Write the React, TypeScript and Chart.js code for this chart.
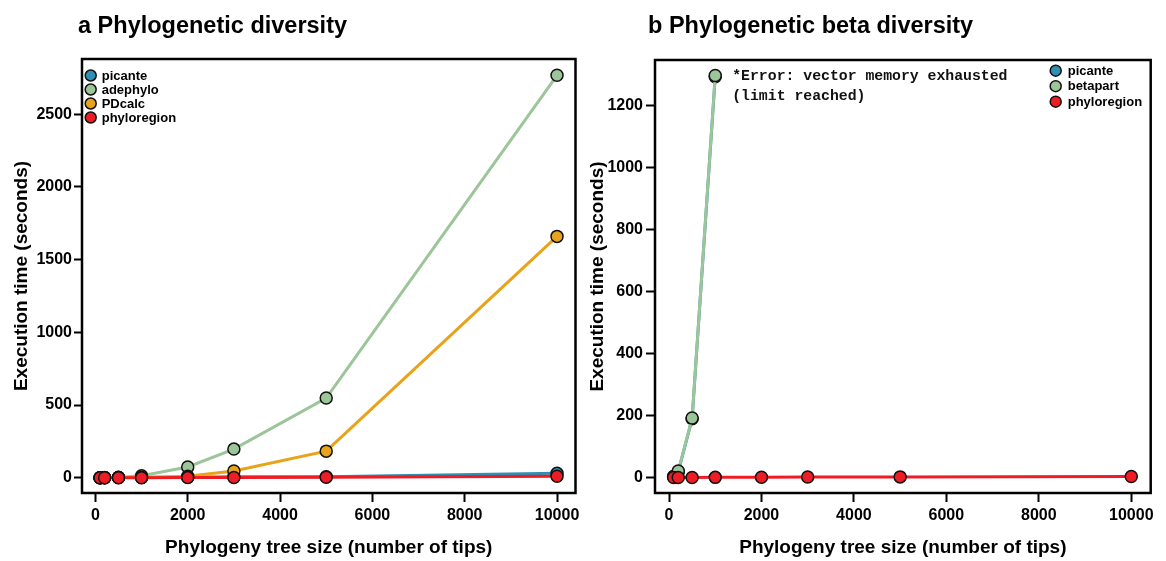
import React, { useEffect, useRef } from "react";
import { Chart, registerables } from "chart.js";

Chart.register(...registerables);

// ---------- data ----------
const treeSizes = [100, 200, 500, 1000, 2000, 3000, 5000, 10000];
const picanteA = [0.2, 0.5, 1, 2, 4, 6, 7, 30];
const adephyloA = [0.5, 1, 3, 14, 74, 197, 548, 2768];
const pdcalcA = [0.2, 0.5, 1, 3, 10, 46, 183, 1660];
const phyloregionA = [0.1, 0.1, 0.2, 0.4, 1, 1.5, 3, 10];

const betaSizes = [100, 200, 500, 1000];
const picanteB = [3, 19, 190, 1294];
const betapartB = [3, 21, 192, 1298];
const phyloregionB = [0.1, 0.1, 0.2, 0.5, 1, 1.5, 2, 3];

const xTicks = [0, 2000, 4000, 6000, 8000, 10000];
const yTicksA = [0, 500, 1000, 1500, 2000, 2500];
const yTicksB = [0, 200, 400, 600, 800, 1000, 1200];

const legendA = ["picante", "adephylo", "PDcalc", "phyloregion"];
const legendB = ["picante", "betapart", "phyloregion"];
const noteLines = ["*Error: vector memory exhausted", "(limit reached)"];

const titleA = "a Phylogenetic diversity";
const titleB = "b Phylogenetic beta diversity";
const xTitle = "Phylogeny tree size (number of tips)";
const yTitle = "Execution time (seconds)";

// ---------- style ----------
const BLUE = "#2f8fb5";
const GREEN = "#9dc59a";
const ORANGE = "#e9a31b";
const RED = "#ee1c25";
const SANS = "'Liberation Sans', Arial, Helvetica, sans-serif";

function ds(label: string, xs: number[], ys: number[], color: string, order: number) {
  return {
    label,
    data: ys.map((y, i) => ({ x: xs[i], y })),
    borderColor: color,
    backgroundColor: color,
    pointBackgroundColor: color,
    pointBorderColor: "#111",
    pointBorderWidth: 1.5,
    pointRadius: 6,
    pointHoverRadius: 6,
    borderWidth: 3,
    tension: 0,
    order,
  };
}

const framePlugin = {
  id: "frameBox",
  afterDraw(chart: any) {
    const { ctx, chartArea: a } = chart;
    ctx.save();
    ctx.strokeStyle = "#000";
    ctx.lineWidth = 2.5;
    ctx.strokeRect(a.left, a.top, a.right - a.left, a.bottom - a.top);
    ctx.restore();
  },
};

const dotLegendPlugin = {
  id: "dotLegend",
  afterDraw(chart: any, _args: any, opts: any) {
    if (!opts || !opts.labels) return;
    const { ctx, chartArea: a } = chart;
    const x0 = opts.side === "right" ? a.right - opts.dx : a.left + opts.dx;
    ctx.save();
    ctx.font = opts.font;
    ctx.textBaseline = "middle";
    ctx.textAlign = "left";
    const labels: string[] = opts.labels;
    const colors: string[] = opts.colors;
    labels.forEach((lab, i) => {
      const y = a.top + opts.dy + i * opts.step;
      ctx.beginPath();
      ctx.arc(x0, y, opts.r, 0, Math.PI * 2);
      ctx.fillStyle = colors[i];
      ctx.fill();
      ctx.lineWidth = 1.5;
      ctx.strokeStyle = "#111";
      ctx.stroke();
      ctx.fillStyle = "#000";
      ctx.fillText(lab, x0 + opts.gap, y + 0.5);
    });
    ctx.restore();
  },
};

const notePlugin = {
  id: "errNote",
  afterDatasetsDraw(chart: any, _args: any, opts: any) {
    if (!opts || !opts.lines) return;
    const { ctx } = chart;
    const px = chart.scales.x.getPixelForValue(opts.x) + opts.dx;
    const py = chart.scales.y.getPixelForValue(opts.y) + opts.dy;
    ctx.save();
    ctx.font = opts.font;
    ctx.fillStyle = "#111";
    ctx.textBaseline = "middle";
    ctx.textAlign = "left";
    (opts.lines as string[]).forEach((l, i) => ctx.fillText(l, px, py + i * opts.step));
    ctx.restore();
  },
};

function makeOptions(p: {
  xMin: number; xMax: number; yMin: number; yMax: number; yTicks: number[];
  yAxisWidth: number; top: number; right: number; yTitlePad: number;
  yTickLen: number; yTickPad: number; legend: any; note?: any;
}) {
  return {
    animation: false as const,
    responsive: false,
    maintainAspectRatio: false,
    layout: { padding: { top: p.top, right: p.right, left: 0, bottom: 0 } },
    plugins: {
      legend: { display: false },
      tooltip: { enabled: false },
      dotLegend: p.legend,
      errNote: p.note || {},
    },
    scales: {
      x: {
        type: "linear" as const,
        min: p.xMin,
        max: p.xMax,
        afterBuildTicks: (s: any) => { s.ticks = xTicks.map((v) => ({ value: v })); },
        afterFit: (s: any) => { s.height = 68; s.paddingLeft = 0; s.paddingRight = 0; },
        border: { display: false },
        grid: { drawOnChartArea: false, drawTicks: true, tickLength: 9, tickWidth: 2, tickColor: "#000" },
        ticks: {
          autoSkip: false, maxRotation: 0, padding: 4, color: "#000",
          font: { family: SANS, size: 16, weight: "bold" as const },
          callback: (v: any) => String(v),
        },
        title: {
          display: true, text: xTitle, color: "#000",
          font: { family: SANS, size: 19, weight: "bold" as const },
          padding: { top: 0, bottom: 1.5 },
        },
      },
      y: {
        type: "linear" as const,
        min: p.yMin,
        max: p.yMax,
        afterBuildTicks: (s: any) => { s.ticks = p.yTicks.map((v) => ({ value: v })); },
        afterFit: (s: any) => { s.width = p.yAxisWidth; s.paddingTop = 0; s.paddingBottom = 0; },
        border: { display: false },
        grid: { drawOnChartArea: false, drawTicks: true, tickLength: p.yTickLen, tickWidth: 2, tickColor: "#000" },
        ticks: {
          autoSkip: false, padding: p.yTickPad, color: "#000",
          font: { family: SANS, size: 16, weight: "bold" as const },
          callback: (v: any) => String(v),
        },
        title: {
          display: true, text: yTitle, color: "#000",
          font: { family: SANS, size: 19, weight: "bold" as const },
          padding: { top: p.yTitlePad, bottom: 0 },
        },
      },
    },
  };
}

export default function App() {
  const refA = useRef<HTMLCanvasElement | null>(null);
  const refB = useRef<HTMLCanvasElement | null>(null);

  useEffect(() => {
    if (!refA.current || !refB.current) return;
    const chartA = new Chart(refA.current, {
      type: "line",
      data: {
        datasets: [
          ds("picante", treeSizes, picanteA, BLUE, 4),
          ds("adephylo", treeSizes, adephyloA, GREEN, 3),
          ds("PDcalc", treeSizes, pdcalcA, ORANGE, 2),
          ds("phyloregion", treeSizes, phyloregionA, RED, 1),
        ],
      },
      options: makeOptions({
        xMin: -290, xMax: 10400, yMin: -105, yMax: 2880, yTicks: yTicksA,
        yAxisWidth: 82, top: 59, right: 7.5, yTitlePad: 10.5, yTickLen: 8, yTickPad: 2,
        legend: {
          labels: legendA, colors: [BLUE, GREEN, ORANGE, RED], side: "left",
          dx: 8.7, dy: 16.5, step: 14, r: 5.5, gap: 11, font: `bold 13px ${SANS}`,
        },
      }) as any,
      plugins: [framePlugin, dotLegendPlugin, notePlugin],
    });

    const chartB = new Chart(refB.current, {
      type: "line",
      data: {
        datasets: [
          ds("picante", betaSizes, picanteB, BLUE, 3),
          ds("betapart", betaSizes, betapartB, GREEN, 2),
          ds("phyloregion", treeSizes, phyloregionB, RED, 1),
        ],
      },
      options: makeOptions({
        xMin: -303, xMax: 10420, yMin: -50, yMax: 1348, yTicks: yTicksB,
        yAxisWidth: 72, top: 60, right: 15.3, yTitlePad: 3, yTickLen: 9, yTickPad: 3,
        legend: {
          labels: legendB, colors: [BLUE, GREEN, RED], side: "right",
          dx: 95, dy: 10.7, step: 15.5, r: 5.5, gap: 12, font: `bold 13px ${SANS}`,
        },
        note: {
          lines: noteLines, x: betaSizes[3], y: betapartB[3], dx: 17, dy: 1, step: 20,
          font: `bold 14.8px 'Liberation Mono', 'Courier New', monospace`,
        },
      }) as any,
      plugins: [framePlugin, dotLegendPlugin, notePlugin],
    });

    return () => {
      chartA.destroy();
      chartB.destroy();
    };
  }, []);

  const titleStyle: React.CSSProperties = {
    position: "absolute",
    top: 13,
    fontFamily: SANS,
    fontWeight: "bold",
    fontSize: "23.5px",
    lineHeight: "24px",
    color: "#000",
    whiteSpace: "nowrap",
  };

  return (
    <div style={{ position: "fixed", left: 0, top: 0, width: 1166, height: 561, background: "#fff", overflow: "hidden" }}>
      <canvas ref={refA} width={583} height={561} style={{ position: "absolute", left: 0, top: 0, width: 583, height: 561 }} />
      <canvas ref={refB} width={583} height={561} style={{ position: "absolute", left: 583, top: 0, width: 583, height: 561 }} />
      <div style={{ ...titleStyle, left: 78 }}>{titleA}</div>
      <div style={{ ...titleStyle, left: 648 }}>{titleB}</div>
    </div>
  );
}
